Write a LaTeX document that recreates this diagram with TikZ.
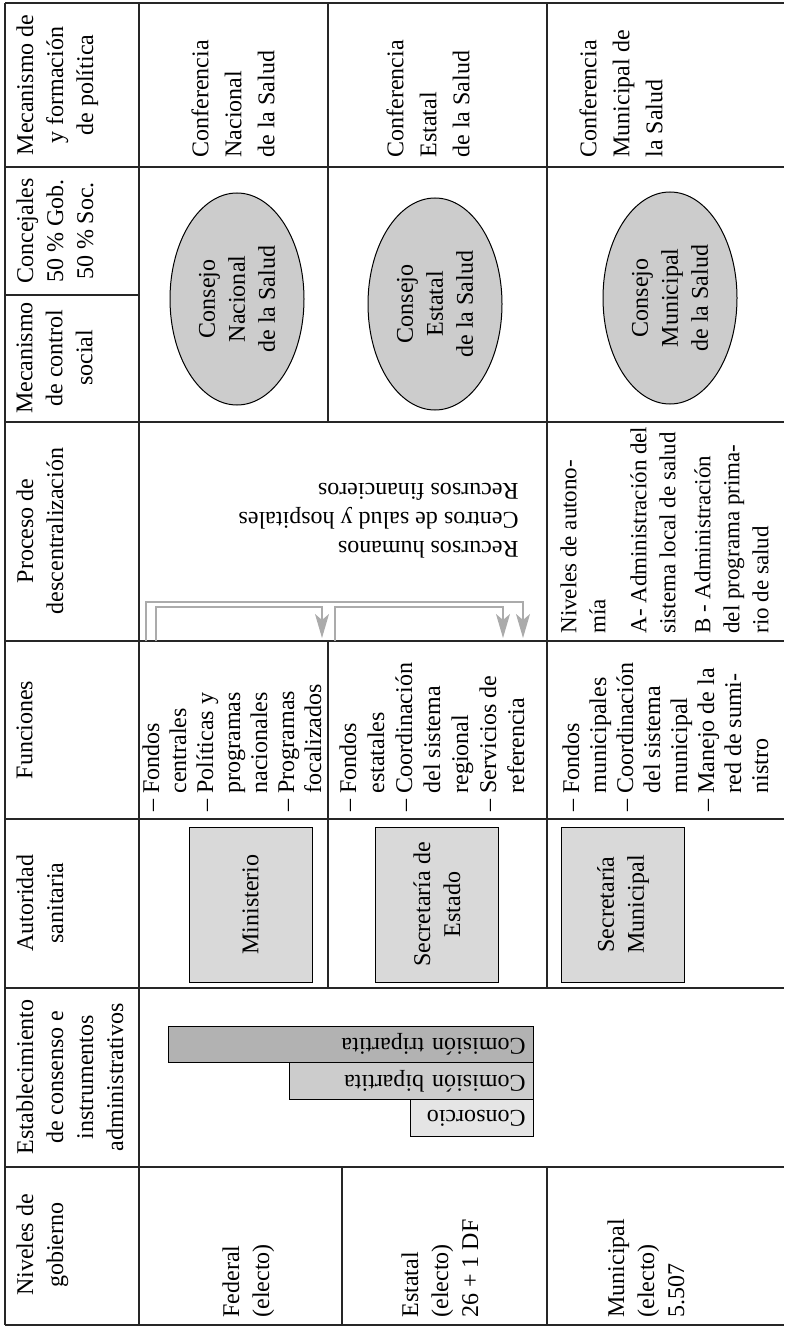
\documentclass[tikz,border=0pt]{standalone}
\usepackage{fontspec}
\setmainfont{Liberation Serif}
\usepackage{tikz}
\usetikzlibrary{shapes.geometric, arrows.meta}
\newcommand{\contind}{\phantom{– }}

\begin{document}
\begin{tikzpicture}[x=0.5pt, y=-0.5pt,
  every node/.style={font=\fontsize{12}{15}\selectfont, inner sep=0pt},
  gridline/.style={line width=0.8pt, black!85},
  hdrtxt/.style={rotate=90, anchor=north, align=center},
  celltxt/.style={rotate=90, anchor=north west, align=left},
  listtxt/.style={celltxt, font=\fontsize{12}{13.5}\selectfont},
  consejo/.style={ellipse, draw, line width=0.5pt, fill=black!20, rotate=90,
                  minimum width=106pt, minimum height=67pt, align=center},
  authbox/.style={rectangle, draw, line width=0.5pt, fill=black!15, rotate=90,
                  minimum width=77.5pt, minimum height=61.5pt, align=center},
  barbox/.style={rectangle, draw, line width=0.5pt, rotate=180, anchor=west,
                 minimum height=18.3pt, inner xsep=4pt, align=left},
  procarr/.style={-{Stealth[length=12pt, width=7pt, inset=3pt]}, line width=0.6pt, black!33}
]
  \useasboundingbox (0,0) rectangle (784,1326);

  \foreach \yy in {3,167,422,641,819,988,1167,1325}
    \draw[gridline] (5,\yy) -- (784,\yy);
  \draw[gridline] (5,3) -- (5,1325);
  \draw[gridline] (139,3) -- (139,1325);
  \draw[gridline] (5,295) -- (139,295);
  \draw[gridline] (328,3) -- (328,422);
  \draw[gridline] (328,641) -- (328,988);
  \draw[gridline] (342,1167) -- (342,1325);
  \draw[gridline] (547,3) -- (547,988);
  \draw[gridline] (547,1167) -- (547,1325);

  \node[hdrtxt] (hpol) at (16,85) {Mecanismo de\\y formación\\de política};
  \node[hdrtxt] (hconc) at (16,231) {Concejales\\50 \% Gob.\\50 \% Soc.};
  \node[hdrtxt] (hctrl) at (16,358) {Mecanismo\\de control\\social};
  \node[hdrtxt] (hproc) at (16,531) {Proceso de\\descentralización};
  \node[hdrtxt] (hfunc) at (16,730) {Funciones};
  \node[hdrtxt] (haut) at (16,903) {Autoridad\\sanitaria};
  \node[hdrtxt] (hestab) at (16,1077) {Establecimiento\\de consenso e\\instrumentos\\administrativos};
  \node[hdrtxt] (hniv) at (16,1245) {Niveles de\\gobierno};

  \node[celltxt, font=\fontsize{12}{16.5}\selectfont] (confN) at (191,158) {Conferencia\\Nacional\\de la Salud};
  \node[celltxt, font=\fontsize{12}{16.5}\selectfont] (confE) at (386,158) {Conferencia\\Estatal\\de la Salud};
  \node[celltxt, font=\fontsize{12}{16.5}\selectfont] (confM) at (579,158) {Conferencia\\Municipal de\\la Salud};

  \node[consejo] (consN) at (237,299) {Consejo\\Nacional\\de la Salud};
  \node[consejo] (consE) at (435,304) {Consejo\\Estatal\\de la Salud};
  \node[consejo] (consM) at (670,298) {Consejo\\Municipal\\de la Salud};

  \node[rotate=180, anchor=north west, align=left, font=\fontsize{12}{14.5}\selectfont] (recursos)
    at (519,559) {Recursos humanos\\Centros de salud y hospitales\\Recursos financieros};
  \node[celltxt, font=\fontsize{11.5}{14.5}\selectfont] (autonomia) at (560,634)
    {Niveles de autono-\\mía\\[6pt]A- Administración del\\sistema local de salud\\[3pt]B - Administración\\del programa prima-\\rio de salud};

  \coordinate (a1) at (146,641);
  \coordinate (a2) at (523,602);
  \coordinate (a3) at (523,638);
  \coordinate (b1) at (156,641);
  \coordinate (b2) at (322,607);
  \coordinate (b3) at (322,638);
  \coordinate (c1) at (335,641);
  \coordinate (c2) at (503,607);
  \coordinate (c3) at (503,638);
  \draw[procarr] (a1) |- (a2) -- (a3);
  \draw[procarr] (b1) |- (b2) -- (b3);
  \draw[procarr] (c1) |- (c2) -- (c3);

  \node[listtxt] (funN) at (142,812) {– Fondos\\\contind centrales\\– Políticas y\\\contind programas\\\contind nacionales\\– Programas\\\contind focalizados};
  \node[listtxt, font=\fontsize{12}{14}\selectfont] (funE) at (339,812) {– Fondos\\\contind estatales\\– Coordinación\\\contind del sistema\\\contind regional\\– Servicios de\\\contind referencia};
  \node[listtxt] (funM) at (562,812) {– Fondos\\\contind municipales\\– Coordinación\\\contind del sistema\\\contind municipal\\– Manejo de la\\\contind red de sumi-\\\contind nistro};

  \node[authbox] (minist) at (250.5,904.5) {Ministerio};
  \node[authbox] (secest) at (437,904.5) {Secretaría de\\Estado};
  \node[authbox] (secmun) at (623,904.5) {Secretaría\\Municipal};

  \node[barbox, fill=black!30, text width=174.5pt] (tripart) at (534,1044.5) {Comisión tripartita};
  \node[barbox, fill=black!20, text width=114pt] (bipart) at (534,1081.2) {Comisión bipartita};
  \node[barbox, fill=black!10, text width=53.5pt] (consorc) at (534,1117.9) {Consorcio};

  \node[celltxt] (nivF) at (222,1318) {Federal\\(electo)};
  \node[celltxt] (nivE) at (401,1318) {Estatal\\(electo)\\26 + 1 DF};
  \node[celltxt] (nivM) at (607,1318) {Municipal\\(electo)\\5.507};
\end{tikzpicture}
\end{document}
